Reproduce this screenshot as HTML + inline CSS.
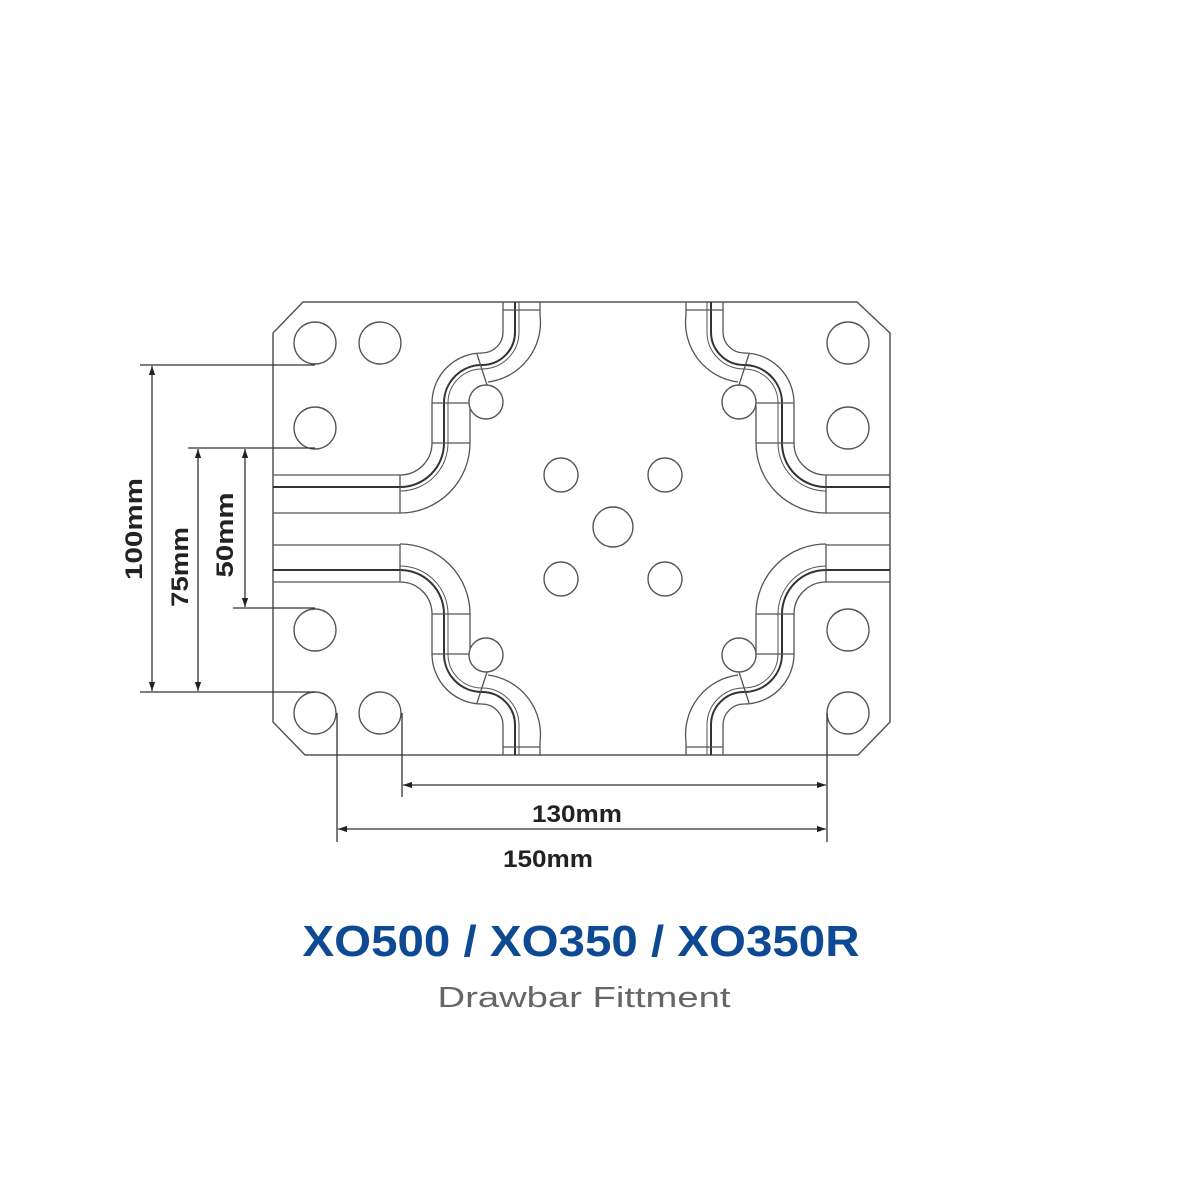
<!DOCTYPE html>
<html><head><meta charset="utf-8"><style>html,body{margin:0;padding:0;background:#fff}svg{display:block}</style></head>
<body>
<svg width="1200" height="1200" viewBox="0 0 1200 1200" xmlns="http://www.w3.org/2000/svg">
<defs>
<marker id="ar" viewBox="0 0 10 10" refX="10" refY="5" markerWidth="9" markerHeight="9" orient="auto-start-reverse" markerUnits="userSpaceOnUse"><path d="M0,1.5 L10,5 L0,8.5 z" fill="#222"/></marker>
<g id="q" fill="none" stroke="#555" stroke-width="1.3">
  <!-- inner -->
  <path d="M400,475 A32,32 0 0 0 432,443 L432,403 A50,50 0 0 1 482,353 A21,21 0 0 0 503,332 L503,302"/>
  <!-- dark -->
  <path d="M400,487 A44,44 0 0 0 444,443 L444,403 A38,38 0 0 1 482,365 A33,33 0 0 0 515,332 L515,302" stroke="#333" stroke-width="2"/>
  <path d="M400,491 A48,48 0 0 0 448,443 L448,403 A34,34 0 0 1 482,369 A37,37 0 0 0 519,332 L519,302" stroke-width="1"/>
  <!-- outer -->
  <path d="M400,513 A70,70 0 0 0 470,443 L470,405"/>
  <path d="M488,382 A60,60 0 0 0 540,315 L540,302"/>
  <line x1="400" y1="475" x2="400" y2="513"/>
  <line x1="432" y1="403" x2="470" y2="403"/>
  <line x1="432" y1="443" x2="470" y2="443"/>
  <line x1="503" y1="310" x2="540" y2="310"/>
  <line x1="477" y1="354" x2="487" y2="385"/>
</g>
</defs>
<!-- plate -->
<polygon points="303,302 857,302 890,333 890,722 858,755 305,755 273,722 273,333" fill="none" stroke="#555" stroke-width="1.5"/>
<use href="#q"/>
<use href="#q" transform="translate(1226,0) scale(-1,1)"/>
<use href="#q" transform="translate(0,1057) scale(1,-1)"/>
<use href="#q" transform="translate(1226,1057) scale(-1,-1)"/>
<g stroke="#555" stroke-width="1.3">
  <line x1="273" y1="475" x2="400" y2="475"/><line x1="273" y1="487" x2="400" y2="487" stroke="#333" stroke-width="2"/><line x1="273" y1="513" x2="400" y2="513"/>
  <line x1="273" y1="545" x2="400" y2="545"/><line x1="273" y1="570" x2="400" y2="570" stroke="#333" stroke-width="2"/><line x1="273" y1="582" x2="400" y2="582"/>
  <line x1="826" y1="475" x2="890" y2="475"/><line x1="826" y1="487" x2="890" y2="487" stroke="#333" stroke-width="2"/><line x1="826" y1="513" x2="890" y2="513"/>
  <line x1="826" y1="545" x2="890" y2="545"/><line x1="826" y1="570" x2="890" y2="570" stroke="#333" stroke-width="2"/><line x1="826" y1="582" x2="890" y2="582"/>
</g>
<!-- holes -->
<g fill="#fff" stroke="#555" stroke-width="1.4">
  <circle cx="315" cy="343" r="21"/><circle cx="380" cy="343" r="21"/><circle cx="315" cy="428" r="21"/>
  <circle cx="315" cy="630" r="21"/><circle cx="315" cy="713" r="21"/><circle cx="380" cy="713" r="21"/>
  <circle cx="848" cy="343" r="21"/><circle cx="848" cy="428" r="21"/><circle cx="848" cy="630" r="21"/><circle cx="848" cy="713" r="21"/>
  <circle cx="486" cy="402" r="17"/><circle cx="739" cy="402" r="17"/><circle cx="486" cy="655" r="17"/><circle cx="739" cy="655" r="17"/>
  <circle cx="613" cy="527" r="20"/>
  <circle cx="561" cy="475" r="17"/><circle cx="665" cy="475" r="17"/><circle cx="561" cy="579" r="17"/><circle cx="665" cy="579" r="17"/>
</g>
<!-- dimension lines -->
<g stroke="#333" stroke-width="1.3" fill="none">
  <line x1="140" y1="365" x2="315" y2="365"/>
  <line x1="188" y1="448" x2="315" y2="448"/>
  <line x1="233" y1="608" x2="315" y2="608"/>
  <line x1="140" y1="692" x2="315" y2="692"/>
  <line x1="152" y1="366" x2="152" y2="691" marker-start="url(#ar)" marker-end="url(#ar)"/>
  <line x1="198" y1="449" x2="198" y2="691" marker-start="url(#ar)" marker-end="url(#ar)"/>
  <line x1="245" y1="449" x2="245" y2="607" marker-start="url(#ar)" marker-end="url(#ar)"/>
  <line x1="337" y1="713" x2="337" y2="842"/>
  <line x1="402" y1="713" x2="402" y2="797"/>
  <line x1="827" y1="713" x2="827" y2="842"/>
  <line x1="403" y1="785" x2="826" y2="785" marker-start="url(#ar)" marker-end="url(#ar)"/>
  <line x1="338" y1="829" x2="826" y2="829" marker-start="url(#ar)" marker-end="url(#ar)"/>
</g>
<g font-family="Liberation Sans, sans-serif" font-weight="bold" font-size="24" fill="#222" text-anchor="middle">
  <text x="577" y="822" textLength="90" lengthAdjust="spacingAndGlyphs">130mm</text>
  <text x="548" y="867" textLength="90" lengthAdjust="spacingAndGlyphs">150mm</text>
  <text transform="translate(142,529) rotate(-90)" textLength="102" lengthAdjust="spacingAndGlyphs">100mm</text>
  <text transform="translate(188,567) rotate(-90)" textLength="80" lengthAdjust="spacingAndGlyphs">75mm</text>
  <text transform="translate(233,535) rotate(-90)" textLength="85" lengthAdjust="spacingAndGlyphs">50mm</text>
</g>
<text x="581" y="956" text-anchor="middle" font-family="Liberation Sans, sans-serif" font-weight="bold" font-size="44" fill="#0d4a93" textLength="557" lengthAdjust="spacingAndGlyphs">XO500 / XO350 / XO350R</text>
<text x="584" y="1007" text-anchor="middle" font-family="Liberation Sans, sans-serif" font-size="29" fill="#666" textLength="293" lengthAdjust="spacingAndGlyphs">Drawbar Fittment</text>
</svg>
</body></html>
